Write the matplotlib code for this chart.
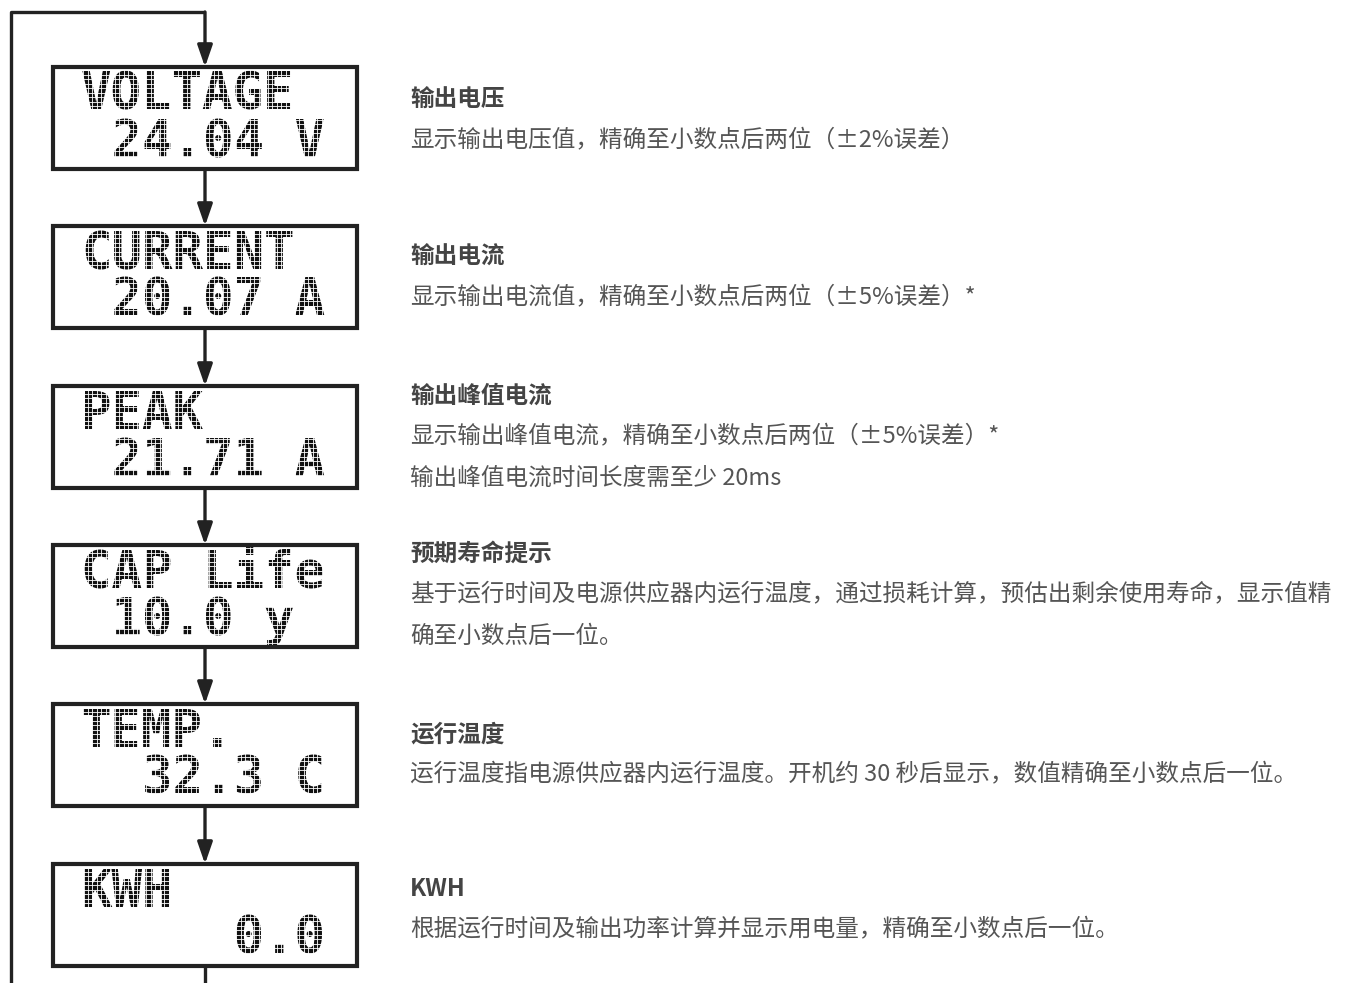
import matplotlib
matplotlib.use("Agg")
import matplotlib.pyplot as plt
import numpy as np
from matplotlib.patches import Rectangle

plt.rcParams['font.family'] = ['Noto Sans CJK SC', 'DejaVu Sans']

# LCD screen contents (line 1 / line 2)
lcd_top = ["VOLTAGE", "CURRENT", "PEAK", "CAP Life", "TEMP.", "KWH"]
lcd_bottom = [" 24.04 V", " 20.07 A", " 21.71 A", " 10.0 y", "  32.3 C", "     0.0"]

titles = ["输出电压", "输出电流", "输出峰值电流", "预期寿命提示", "运行温度", "KWH"]
descs = [
    ["显示输出电压值，精确至小数点后两位（±2%误差）"],
    ["显示输出电流值，精确至小数点后两位（±5%误差）*"],
    ["显示输出峰值电流，精确至小数点后两位（±5%误差）*",
     "输出峰值电流时间长度需至少 20ms"],
    ["基于运行时间及电源供应器内运行温度，通过损耗计算，预估出剩余使用寿命，显示值精",
     "确至小数点后一位。"],
    ["运行温度指电源供应器内运行温度。开机约 30 秒后显示，数值精确至小数点后一位。"],
    ["根据运行时间及输出功率计算并显示用电量，精确至小数点后一位。"],
]
box_tops = [67, 226, 386, 545, 704, 864]
title_y = [100, 257, 396, 554, 734, 889]

W, H = 1348, 983
fig = plt.figure(figsize=(W / 100, H / 100), dpi=100)
ax = fig.add_axes([0, 0, 1, 1])
ax.set_xlim(0, W)
ax.set_ylim(H, 0)
ax.axis("off")

lc = "#222222"
bx0, bx1, bh = 53, 357, 102
cx = (bx0 + bx1) / 2

# loop line on the left
ax.plot([11, 11, cx], [H + 5, 12, 12], color=lc, lw=2.4, solid_capstyle="butt")

def arrow(y0, y1):
    ax.annotate("", xy=(cx, y1), xytext=(cx, y0),
                arrowprops=dict(arrowstyle="-|>,head_length=1.3,head_width=0.45",
                                color=lc, lw=2.4, shrinkA=0, shrinkB=0))

prev = 12
for i, top in enumerate(box_tops):
    arrow(prev, top)
    for k, s in enumerate([lcd_top[i], lcd_bottom[i]]):
        ax.text(81, top + 29 + 47 * k, s, fontsize=36.5, family="DejaVu Sans Mono",
                fontweight="bold", color="#111111", va="center", ha="left")
    # thin white grid over the screen gives the dot-matrix look
    gx = np.arange(bx0 + 3, bx1 - 2, 4.5)
    gy = np.arange(top + 3, top + bh - 2, 4.5)
    ax.vlines(gx, top + 2, top + bh - 2, color="white", lw=0.6, zorder=3)
    ax.hlines(gy, bx0 + 2, bx1 - 2, color="white", lw=0.6, zorder=3)
    ax.add_patch(Rectangle((bx0, top), bx1 - bx0, bh, fill=False,
                           edgecolor=lc, lw=3, zorder=4))
    ax.text(410, title_y[i], titles[i], fontsize=17, fontweight="bold",
            color="#444444", va="center", ha="left")
    for j, line in enumerate(descs[i]):
        ax.text(410, title_y[i] + 41 * (j + 1), line, fontsize=17,
                color="#555555", va="center", ha="left")
    prev = top + bh
ax.plot([cx, cx], [prev, H + 5], color=lc, lw=2.4)

fig.savefig("out.png", dpi=100)
